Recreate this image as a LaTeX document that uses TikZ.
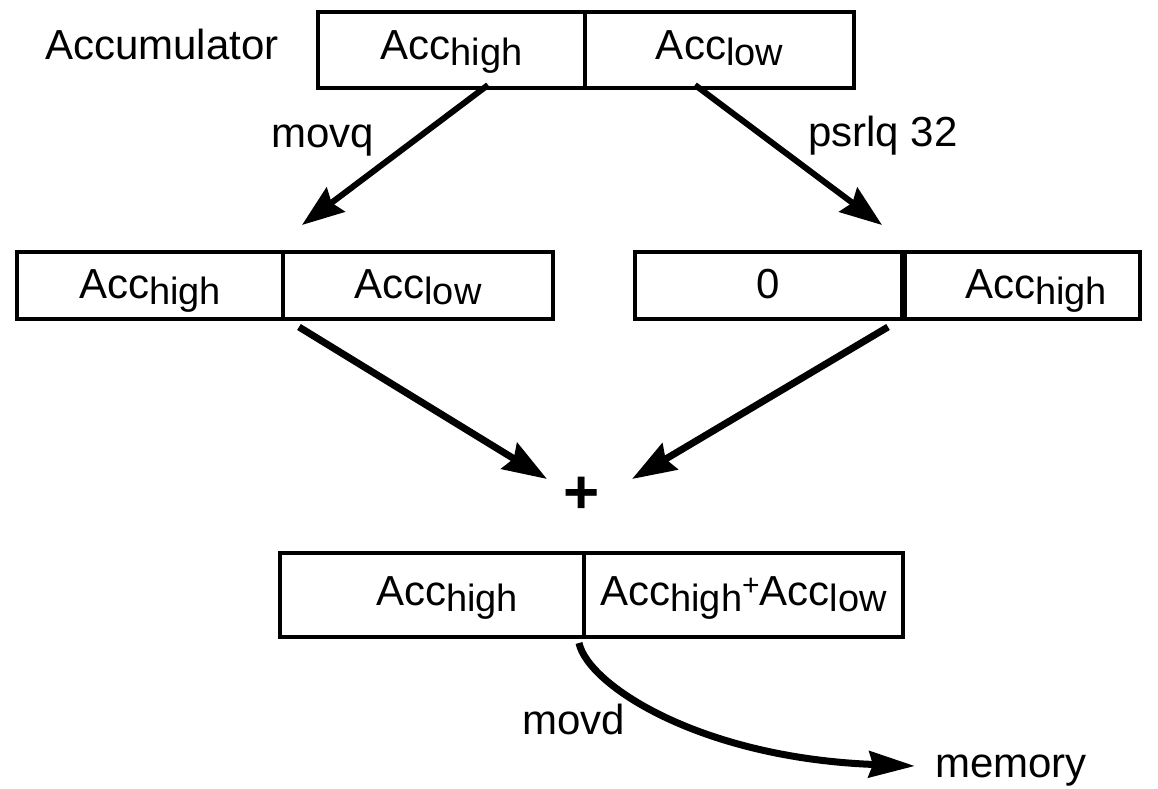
\documentclass[tikz,border=0pt]{standalone}
\usepackage{fontspec}
\setmainfont{Liberation Sans}
\usetikzlibrary{arrows.meta,calc}
\newcommand\AccSub[1]{Acc\raisebox{-6pt}{\fontsize{38}{40}\selectfont #1}}
\newcommand\SmallPlus{\raisebox{10pt}{\fontsize{30}{30}\selectfont +}}
\begin{document}
\begin{tikzpicture}[x=1pt,y=-1pt,
  every node/.style={font=\fontsize{42}{50}\selectfont},
  cell/.style={draw,line width=4pt,inner sep=0pt},
  topcell/.style={cell,minimum height=76pt,text height=30pt,text depth=12pt},
  midcell/.style={cell,minimum height=67pt,text height=36pt,text depth=10pt},
  botcell/.style={cell,minimum height=84pt,text height=32pt,text depth=12pt},
  lbl/.style={anchor=base west,inner sep=0pt},
  arrA/.style={line width=6pt,-{Stealth[length=42pt,width=30pt,inset=5pt]}},
  arrB/.style={line width=7pt,-{Stealth[length=44pt,width=30pt,inset=5pt]}},
  arrC/.style={line width=7pt,-{Stealth[length=46pt,width=26pt,inset=4pt]}}]
\useasboundingbox (0,0) rectangle (1158,788);

% top register
\node[topcell,minimum width=267pt] (th) at (451.5,50) {\AccSub{high}};
\node[topcell,minimum width=269pt] (tl) at (719.5,50) {\AccSub{low}};
\node[lbl] (accum) at (45,59) {Accumulator};

% middle registers
\node[midcell,minimum width=266pt] (lh) at (150,285.5) {\AccSub{high}};
\node[midcell,minimum width=270pt] (ll) at (418,285.5) {\AccSub{low}};
\node[midcell,minimum width=267pt] (r0) at (768.5,285.5) {0};
\node[midcell,minimum width=238pt] (rh) at (1021,285.5) {\hspace*{30pt}\AccSub{high}};
\draw[line width=6pt] (r0.north east) -- (r0.south east);

% plus
\node[font=\fontsize{62}{62}\selectfont\bfseries,inner sep=0pt] (plus) at (582,495) {+};

% bottom register
\node[botcell,minimum width=304pt] (bh) at (432,595) {\hspace*{30pt}\AccSub{high}};
\node[botcell,minimum width=319pt] (bs) at (743.5,595) {\AccSub{high}\SmallPlus\AccSub{low}};

% labels
\node[lbl] (movq) at (271,147) {movq};
\node[lbl] (psrlq) at (808,146) {psrlq 32};
\node[lbl] (movd) at (522,734) {movd};
\node[lbl] (memory) at (935,777) {memory};

% arrows
\draw[arrA] ([xshift=36.5pt,yshift=5pt]th.south) -- ([xshift=17pt,yshift=25pt]lh.north east);
\draw[arrA] ([xshift=-24.5pt,yshift=5pt]tl.south) -- ([xshift=-22pt,yshift=25pt]r0.north east);
\draw[arrB] ([xshift=14pt,yshift=-6pt]lh.south east) -- ([xshift=-35pt,yshift=16pt]plus.center);
\draw[arrB] ([xshift=-16pt,yshift=-6pt]r0.south east) -- ([xshift=50pt,yshift=16pt]plus.center);
\draw[arrC] ([xshift=-3pt,yshift=-4pt]bs.south west) .. controls (588,685) and (700,758) .. ([xshift=-20pt,yshift=11pt]memory.base west);
\end{tikzpicture}
\end{document}
